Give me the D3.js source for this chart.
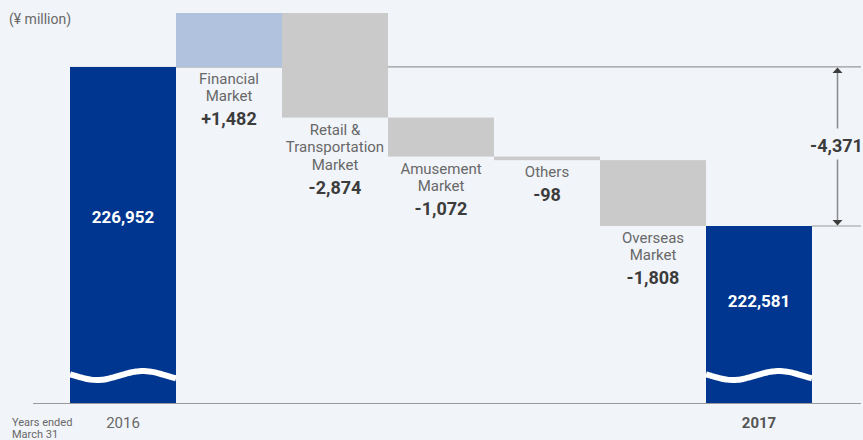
<!DOCTYPE html>
<html>
<head>
<meta charset="utf-8">
<title>Waterfall</title>
<style>
  body { margin:0; background:#f1f4f9; font-family: Roboto, "Noto Sans", sans-serif; }
  svg { display:block; }
  .lbl { font-size:15px; fill:#686868; text-anchor:middle; }
  .val { font-size:18px; font-weight:700; fill:#3c3c3c; text-anchor:middle; }
  .tot { font-size:17px; font-weight:700; fill:#fff; text-anchor:middle; }
</style>
</head>
<body>
<script src="https://d3js.org/d3.v7.min.js"></script>
<script>
var width = 863, height = 440;

// data
var categories = ["2016", "Financial Market", "Retail & Transportation Market", "Amusement Market", "Others", "Overseas Market", "2017"];
var labelLines = [[], ["Financial", "Market"], ["Retail &", "Transportation", "Market"], ["Amusement", "Market"], ["Others"], ["Overseas", "Market"], []];
var startValue = 226952;
var changes = [1482, -2874, -1072, -98, -1808];
var endValue = 222581;
var totalChange = -4371;

var svg = d3.select("body").append("svg")
    .attr("width", width)
    .attr("height", height);

var x = d3.scaleBand()
    .domain(categories)
    .range([70, 812])
    .padding(0);

// broken axis: only the upper part is to scale
var y = d3.scaleLinear()
    .domain([222581, 228434])
    .range([226, 13]);
var baseY = 403;

var fmt = d3.formatLocale({ decimal: ".", thousands: ",", grouping: [3], currency: ["", ""], minus: "-" }).format(",");

// build waterfall steps
var steps = [];
var run = startValue;
steps.push({ cat: categories[0], y0: baseY, y1: y(startValue), type: "total", v: startValue });
changes.forEach(function(c, i) {
    var next = run + c;
    steps.push({ cat: categories[i + 1], a: run, b: next, type: c > 0 ? "up" : "down", v: c });
    run = next;
});
steps.push({ cat: categories[6], y0: baseY, y1: y(endValue), type: "total", v: endValue });

var colors = { total: "#00368f", up: "#b1c2df", down: "#c9cac9" };

// reference lines
svg.append("line")
    .attr("x1", x(categories[1])).attr("x2", 861)
    .attr("y1", y(startValue)).attr("y2", y(startValue))
    .attr("stroke", "#9a9a9a").attr("stroke-width", 1.2);
svg.append("line")
    .attr("x1", x(categories[6]) + x.bandwidth()).attr("x2", 861)
    .attr("y1", y(endValue)).attr("y2", y(endValue))
    .attr("stroke", "#9a9a9a").attr("stroke-width", 1.2);

// baseline
svg.append("line")
    .attr("x1", 33).attr("x2", 861)
    .attr("y1", baseY + 0.5).attr("y2", baseY + 0.5)
    .attr("stroke", "#9a9a9a").attr("stroke-width", 1.2);

// bars
svg.append("g").selectAll("rect")
    .data(steps).enter()
    .append("rect")
    .attr("x", function(d) { return x(d.cat); })
    .attr("width", x.bandwidth())
    .attr("y", function(d) { return d.type === "total" ? d.y1 : y(Math.max(d.a, d.b)); })
    .attr("height", function(d) {
        return d.type === "total" ? d.y0 - d.y1 : Math.abs(y(d.a) - y(d.b));
    })
    .attr("fill", function(d) { return colors[d.type]; });

// wave breaks on the total bars
var waveLine = d3.line().curve(d3.curveBasis);
steps.filter(function(d) { return d.type === "total"; }).forEach(function(d) {
    var x0 = x(d.cat), w = x.bandwidth();
    var pts = d3.range(0, 41).map(function(i) {
        var px = x0 + w * i / 40;
        return [px, 375.5 - 4.5 * Math.cos(2 * Math.PI * (px - x0 - 73) / 92)];
    });
    svg.append("path")
        .attr("d", waveLine(pts))
        .attr("fill", "none")
        .attr("stroke", "#fff")
        .attr("stroke-width", 6);
});

// total values
svg.append("text").attr("class", "tot")
    .attr("x", x(categories[0]) + x.bandwidth() / 2).attr("y", 223)
    .text(fmt(startValue));
svg.append("text").attr("class", "tot")
    .attr("x", x(categories[6]) + x.bandwidth() / 2).attr("y", 307)
    .text(fmt(endValue));

// change labels below each floating bar
steps.forEach(function(d, i) {
    if (d.type === "total") return;
    var cx = x(d.cat) + x.bandwidth() / 2;
    var top = y(Math.min(d.a, d.b)) + 17;
    var g = svg.append("g");
    labelLines[i].forEach(function(t, j) {
        g.append("text").attr("class", "lbl")
            .attr("x", cx).attr("y", top + j * 17.5)
            .text(t);
    });
    g.append("text").attr("class", "val")
        .attr("x", cx).attr("y", top + (labelLines[i].length - 1) * 17.5 + 24)
        .text((d.v > 0 ? "+" : "") + fmt(d.v));
});

// total change arrow
var ax = 837.5;
var arrowTop = y(startValue), arrowBot = y(endValue), mid = (arrowTop + arrowBot) / 2;
svg.append("line").attr("x1", ax).attr("x2", ax)
    .attr("y1", arrowTop + 5).attr("y2", mid - 18)
    .attr("stroke", "#8a8a8a").attr("stroke-width", 1.5);
svg.append("line").attr("x1", ax).attr("x2", ax)
    .attr("y1", mid + 13).attr("y2", arrowBot - 5)
    .attr("stroke", "#8a8a8a").attr("stroke-width", 1.5);
svg.append("path")
    .attr("d", "M" + (ax - 5) + "," + (arrowTop + 6) + "L" + ax + "," + (arrowTop + 0.5) + "L" + (ax + 5) + "," + (arrowTop + 6) + "Z")
    .attr("fill", "#3c3c3c");
svg.append("path")
    .attr("d", "M" + (ax - 5) + "," + (arrowBot - 6) + "L" + ax + "," + (arrowBot - 0.5) + "L" + (ax + 5) + "," + (arrowBot - 6) + "Z")
    .attr("fill", "#3c3c3c");
svg.append("text").attr("class", "val")
    .attr("x", ax - 1).attr("y", mid + 6)
    .text(fmt(totalChange));

// axis labels
svg.append("text")
    .attr("x", x(categories[0]) + x.bandwidth() / 2).attr("y", 428)
    .attr("text-anchor", "middle").attr("font-size", 15).attr("fill", "#686868")
    .text("2016");
svg.append("text")
    .attr("x", x(categories[6]) + x.bandwidth() / 2).attr("y", 428)
    .attr("text-anchor", "middle").attr("font-size", 15).attr("font-weight", 700).attr("fill", "#555")
    .text("2017");
svg.append("text").attr("x", 12).attr("y", 426)
    .attr("font-size", 11).attr("fill", "#686868").text("Years ended");
svg.append("text").attr("x", 12).attr("y", 438)
    .attr("font-size", 11).attr("fill", "#686868").text("March 31");
svg.append("text").attr("x", 9).attr("y", 24)
    .attr("font-size", 14).attr("fill", "#686868").text("(¥ million)");
</script>
</body>
</html>
